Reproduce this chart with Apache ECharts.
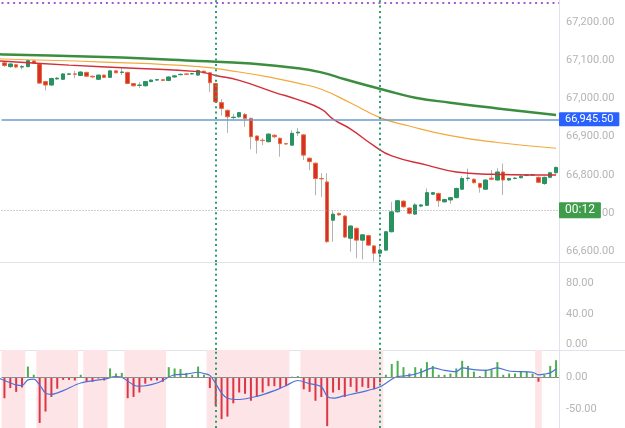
<!DOCTYPE html>
<html>
<head>
<meta charset="utf-8">
<script src="https://cdn.jsdelivr.net/npm/echarts@6/dist/echarts.min.js"></script>
<style>
  html, body { margin: 0; padding: 0; background: #fff; }
  #chart { width: 625px; height: 428px; }
</style>
</head>
<body>
<div id="chart"></div>
<script>
// candles, one per bar
const opens = [67093,67083,67088,67082,67083,67098,67090,67044,67035,67051,67050,67063,67064,67060,67068,67058,67050,67061,67055,67072,
  67068,67068,67039,67034,67033,67044,67048,67049,67047,67056,67062,67064,67064,67061,67071,67067,67039,66989,66969,66950,
  66952,66958,66948,66902,66891,66887,66904,66896,66882,66878,66910,66905,66844,66831,66791,66782,66682,66700,66693,66635,
  66661,66630,66642,66615,66596,66604,66652,66704,66732,66714,66698,66719,66721,66750,66752,66730,66735,66741,66763,66791,
  66789,66778,66763,66792,66787,66808,66787,66791,66793,66799,66800,66794,66778,66794,66806]
const closes = [67086,67090,67082,67083,67099,67092,67040,67035,67052,67053,67064,67064,67063,67069,67058,67056,67061,67055,67072,67067,
  67069,67039,67033,67035,67044,67048,67049,67047,67056,67059,67063,67063,67065,67073,67067,67041,66991,66974,66952,66951,
  66963,66948,66900,66891,66890,66907,66900,66882,66881,66909,66912,66852,66835,66791,66790,66626,66698,66696,66638,66667,
  66630,66644,66617,66596,66604,66652,66704,66733,66717,66700,66722,66722,66754,66754,66733,66736,66741,66765,66791,66792,
  66780,66768,66787,66789,66808,66787,66791,66792,66797,66800,66801,66781,66794,66806,66820]
const lows = [67082,67080,67079,67076,67081,67090,67038,67021,67033,67049,67048,67061,67053,67058,67056,67054,67048,67053,67054,67065,
  67061,67037,67031,67027,67031,67042,67046,67045,67045,67054,67060,67061,67062,67059,67065,67017,66988,66955,66910,66943,
  66950,66926,66867,66856,66878,66885,66896,66848,66879,66876,66902,66839,66813,66747,66743,66623,66626,66694,66636,66600,
  66583,66580,66615,66574,66578,66602,66650,66702,66715,66697,66696,66716,66719,66748,66717,66728,66725,66739,66761,66784,
  66778,66754,66761,66787,66785,66748,66785,66789,66791,66797,66798,66779,66774,66792,66804]
const highs = [67097,67092,67090,67087,67103,67100,67092,67046,67054,67056,67066,67066,67072,67071,67070,67059,67062,67062,67074,67074,
  67079,67070,67040,67043,67046,67050,67050,67050,67058,67061,67065,67065,67067,67075,67073,67069,67041,66998,66971,66960,
  66965,66962,66950,66903,66896,66909,66906,66898,66884,66917,66923,66907,66846,66833,66805,66805,66708,66702,66695,66669,
  66663,66646,66644,66617,66617,66654,66730,66735,66734,66716,66727,66724,66765,66756,66754,66738,66743,66767,66797,66817,
  66791,66780,66789,66813,66818,66830,66793,66795,66799,66802,66803,66796,66796,66808,66822]

// moving averages, read at a few bars: [bar, price] (bar -1 = the bar just off the left edge)
const maSlow = [[-1,67116],[0,67115],[17,67108],[33,67098],[42,67091],[50,67079],[54,67068],[58,67050],[62,67033],[66,67017],[70,67002],[76,66989],[84,66974],[94,66957]]
const maMid = [[-1,67104],[0,67103],[17,67095],[33,67083],[40,67069],[46,67053],[50,67040],[54,67024],[59,66988],[64,66950],[69,66928],[76,66903],[84,66885],[94,66870]]
const maFast = [[-1,67098],[0,67097],[11,67087],[22,67079],[33,67070],[36,67060],[40,67047],[46,67016],[50,66997],[54,66972],[56,66946],[59,66920],[63,66876],[66,66850],[72,66826],[77,66808],[83,66802],[90,66800],[94,66800]]

// oscillator pane
const hist = [-33,-17,-23,-16,17,4,-72,-54,-31,-18,-4,-4,-5,4,-7,-7,-2,-5,14,6,
  7,-33,-31,-24,-10,-5,-5,-7,16,14,13,7,4,17,4,-17,-45,-66,-62,-41,
  -24,-26,-37,-31,-24,-14,-14,-17,-14,1,2,-19,-23,-37,-31,-77,-24,-20,-31,-15,
  -23,-15,-17,-19,-8,4,21,26,16,6,16,14,24,18,4,4,6,14,26,18,
  9,2,12,12,24,4,6,6,9,9,6,-7,4,18,27]
const signal = [[-1,-1],[0,-5],[2,-12],[3,-13],[4,-4],[5,-3],[6,-12],[7,-25],[8,-27],[10,-21],[13,-9],[17,-3],[19,1],[20,0],[22,-12],[23,-14],
  [26,-9],[29,4],[31,5],[33,8],[34,6],[35,3],[36,-10],[37,-25],[38,-33],[40,-35],[43,-30],[46,-21],[48,-13],[50,-5],[52,-10],
  [54,-15],[55,-30],[56,-33],[58,-29],[61,-23],[64,-15],[66,-3],[67,1],[69,3],[71,8],[73,15],[75,11],[77,9],[78,15],[80,12],
  [82,11],[84,15],[86,10],[90,8],[91,4],[92,5],[93,7],[94,13]]

// horizontal levels and session markers
const alertPrice = 66945.5
const countdownPrice = 66708
const countdownText = '00:12'
const topLevel = 67251
const sessionBars = [36, 64]

const cats = opens.map((_, i) => String(i))

const fmt = (v) => v.toLocaleString('en-US', { minimumFractionDigits: 2, maximumFractionDigits: 2 })
const onStep = (v, s) => Math.abs(v / s - Math.round(v / s)) < 1e-6

const axisGray = '#e0e3eb'
const labelGray = '#b5b5b5'
const font = 'Roboto'

const sessionLines = sessionBars.map((b) => ({
  xAxis: b,
  lineStyle: { color: '#2e9e72', width: 2, type: [2, 3.3] },
  label: { show: false }
}))

function priceAxis(gridIndex, min, max, step, splitNumber) {
  return {
    type: 'value', gridIndex, position: 'right', min, max, splitNumber,
    axisLine: { show: true, lineStyle: { color: axisGray } },
    axisTick: { show: false },
    splitLine: { show: false },
    axisLabel: {
      margin: 7, color: labelGray, fontSize: 11, fontFamily: font,
      formatter: (v) => (onStep(v, step) ? fmt(v) : '')
    }
  }
}

function catAxis(gridIndex) {
  return { type: 'category', gridIndex, data: cats, boundaryGap: true, show: false }
}

const option = {
  animation: false,
  backgroundColor: '#fff',
  textStyle: { fontFamily: font },
  grid: [
    { left: 1.5, right: 66, top: 0, height: 262 },
    { left: 1.5, right: 66, top: 263, height: 87 },
    { left: 1.5, right: 66, top: 350, height: 78 }
  ],
  xAxis: [catAxis(0), catAxis(1), catAxis(2), catAxis(2)],
  yAxis: [
    priceAxis(0, 66573, 67257, 100, 5),
    priceAxis(1, -7.4, 107.2, 40, 5),
    priceAxis(2, -80, 43.1, 50, 12),
    { type: 'value', gridIndex: 2, min: 0, max: 1, show: false }
  ],
  graphic: [
    { type: 'line', shape: { x1: 0, y1: 262.5, x2: 625, y2: 262.5 }, style: { stroke: axisGray, lineWidth: 1 }, silent: true },
    { type: 'line', shape: { x1: 0, y1: 350.5, x2: 625, y2: 350.5 }, style: { stroke: axisGray, lineWidth: 1 }, silent: true }
  ],
  series: [
    {
      // wicks
      name: 'wicks', type: 'candlestick', xAxisIndex: 0, yAxisIndex: 0, barWidth: 1, z: 2,
      data: opens.map((o, i) => [o, closes[i], lows[i], highs[i]]),
      itemStyle: { color: '#b3b3b3', color0: '#b3b3b3', borderColor: '#b3b3b3', borderColor0: '#b3b3b3', borderWidth: 1 },
      markLine: {
        silent: true, symbol: ['none', 'none'], animation: false,
        data: [
          ...sessionLines,
          {
            yAxis: alertPrice,
            lineStyle: { color: '#6d9bd2', width: 1.5, type: 'solid' },
            label: {
              show: true, position: 'end', distance: 0, formatter: fmt(alertPrice),
              color: '#fff', backgroundColor: '#2962ff', padding: [2, 6, 1, 6],
              fontSize: 11, fontFamily: font, borderRadius: 1
            }
          },
          {
            yAxis: countdownPrice,
            lineStyle: { color: '#a0a0a0', width: 1, type: [1, 2] },
            label: {
              show: true, position: 'end', distance: 0, formatter: countdownText,
              color: '#fff', backgroundColor: '#3e9c4a', padding: [2, 6, 2, 6],
              fontSize: 12, fontFamily: font, borderRadius: 1
            }
          },
          {
            yAxis: topLevel,
            lineStyle: { color: '#a35bcf', width: 2, type: [2, 3.8] },
            label: { show: false }
          }
        ]
      }
    },
    {
      name: 'bodies', type: 'candlestick', xAxisIndex: 0, yAxisIndex: 0, barWidth: 4, z: 3,
      data: opens.map((o, i) => [o, closes[i], Math.min(o, closes[i]), Math.max(o, closes[i])]),
      itemStyle: { color: '#2a9160', color0: '#d6302c', borderColor: '#2a9160', borderColor0: '#ec6b3a', borderWidth: 1 }
    },
    {
      name: 'ma slow', type: 'line', xAxisIndex: 0, yAxisIndex: 0, data: maSlow, smooth: true,
      showSymbol: false, z: 4, lineStyle: { color: '#3b8e3f', width: 2.5 }
    },
    {
      name: 'ma mid', type: 'line', xAxisIndex: 0, yAxisIndex: 0, data: maMid, smooth: true,
      showSymbol: false, z: 4, lineStyle: { color: '#f2a93b', width: 1.2 }
    },
    {
      name: 'ma fast', type: 'line', xAxisIndex: 0, yAxisIndex: 0, data: maFast, smooth: true,
      showSymbol: false, z: 4, lineStyle: { color: '#d32f3a', width: 1.4 }
    },
    {
      name: 'empty pane', type: 'line', xAxisIndex: 1, yAxisIndex: 1, data: [],
      markLine: { silent: true, symbol: ['none', 'none'], animation: false, data: sessionLines }
    },
    {
      // pink background behind falling histogram bars
      name: 'shade', type: 'bar', xAxisIndex: 3, yAxisIndex: 3, barWidth: 6.6, z: 1,
      data: hist.map((v) => ({ value: 1, itemStyle: { color: v < 0 ? '#fde4e6' : 'rgba(255,255,255,0)' } }))
    },
    {
      name: 'hist', type: 'bar', xAxisIndex: 2, yAxisIndex: 2, barWidth: 2, z: 3,
      data: hist.map((v) => ({ value: v, itemStyle: { color: v < 0 ? '#dc3545' : '#4caf50' } })),
      markLine: {
        silent: true, symbol: ['none', 'none'], animation: false,
        data: [
          { yAxis: 0, lineStyle: { color: '#8c8c8c', width: 1, type: 'solid' }, label: { show: false } },
          ...sessionLines
        ]
      }
    },
    {
      name: 'signal', type: 'line', xAxisIndex: 2, yAxisIndex: 2, data: signal, smooth: 0.3,
      showSymbol: false, z: 4, lineStyle: { color: '#4a72d9', width: 1.2 }
    }
  ]
}

const myChart = echarts.init(document.getElementById('chart'))
myChart.setOption(option)
window.addEventListener('resize', () => {
  myChart.resize()
})
</script>
</body>
</html>
